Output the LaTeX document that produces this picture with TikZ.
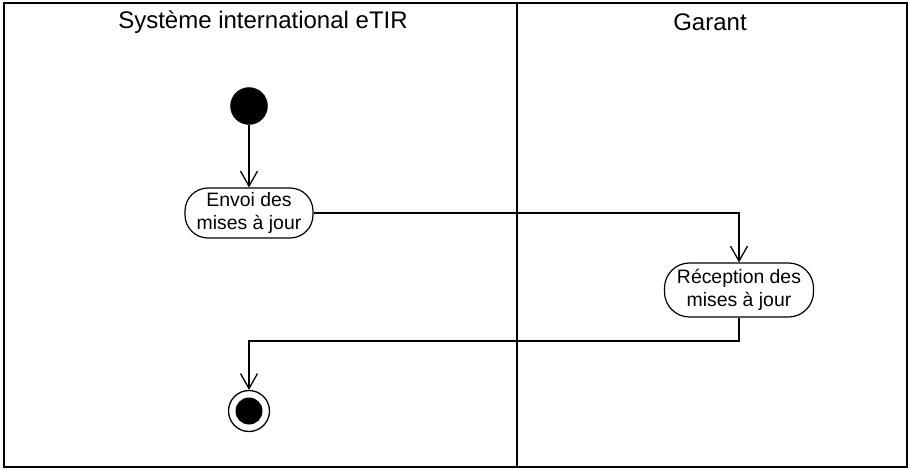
\documentclass[tikz,border=0pt]{standalone}
\usepackage{fontspec}
\setmainfont{Liberation Sans}
\usetikzlibrary{arrows.meta}
\tikzset{
  lane/.style={draw=black,line width=1.5pt},
  activity/.style={draw=black,line width=1.2pt,rounded corners=23pt,minimum width=128pt,minimum height=50pt,align=center,inner sep=0pt,font=\fontsize{19.4}{22.5}\selectfont},
  flow/.style={draw=black,line width=1.3pt,-{Straight Barb[length=15pt,width=17pt,line width=1.3pt]}},
  title/.style={font=\fontsize{24}{28}\selectfont,inner sep=0pt}
}
\begin{document}
\begin{tikzpicture}[x=1pt,y=-1pt]
\useasboundingbox (0,0) rectangle (909,469);
\draw[lane] (4,3) rectangle (907,467);
\draw[black,line width=2.2pt] (517,3) -- (517,467);
\node[title] (t1) at (263,22) {Système international eTIR};
\node[title] (t2) at (710,22) {Garant};
\node[circle,fill=black,draw=black,minimum size=37pt,inner sep=0pt] (start) at (249,106) {};
\node[activity] (a1) at (249,213) {Envoi des\\mises à jour};
\node[activity,minimum width=149pt,minimum height=54pt,rounded corners=25pt] (a2) at (739,290) {Réception des\\mises à jour};
\node[circle,draw=black,line width=1.3pt,minimum size=41pt,inner sep=0pt] (end) at (249,411) {};
\node[circle,fill=black,minimum size=27pt,inner sep=0pt] (endin) at (end.center) {};
\coordinate (c1) at (739,213);
\coordinate (c2) at (739,341);
\coordinate (c3) at (249,341);
\draw[flow] (start) -- (a1);
\draw[flow] (a1.east) -- (c1) -- (a2.north);
\draw[flow] (a2.south) -- (c2) -- (c3) -- (end.north);
\end{tikzpicture}
\end{document}
